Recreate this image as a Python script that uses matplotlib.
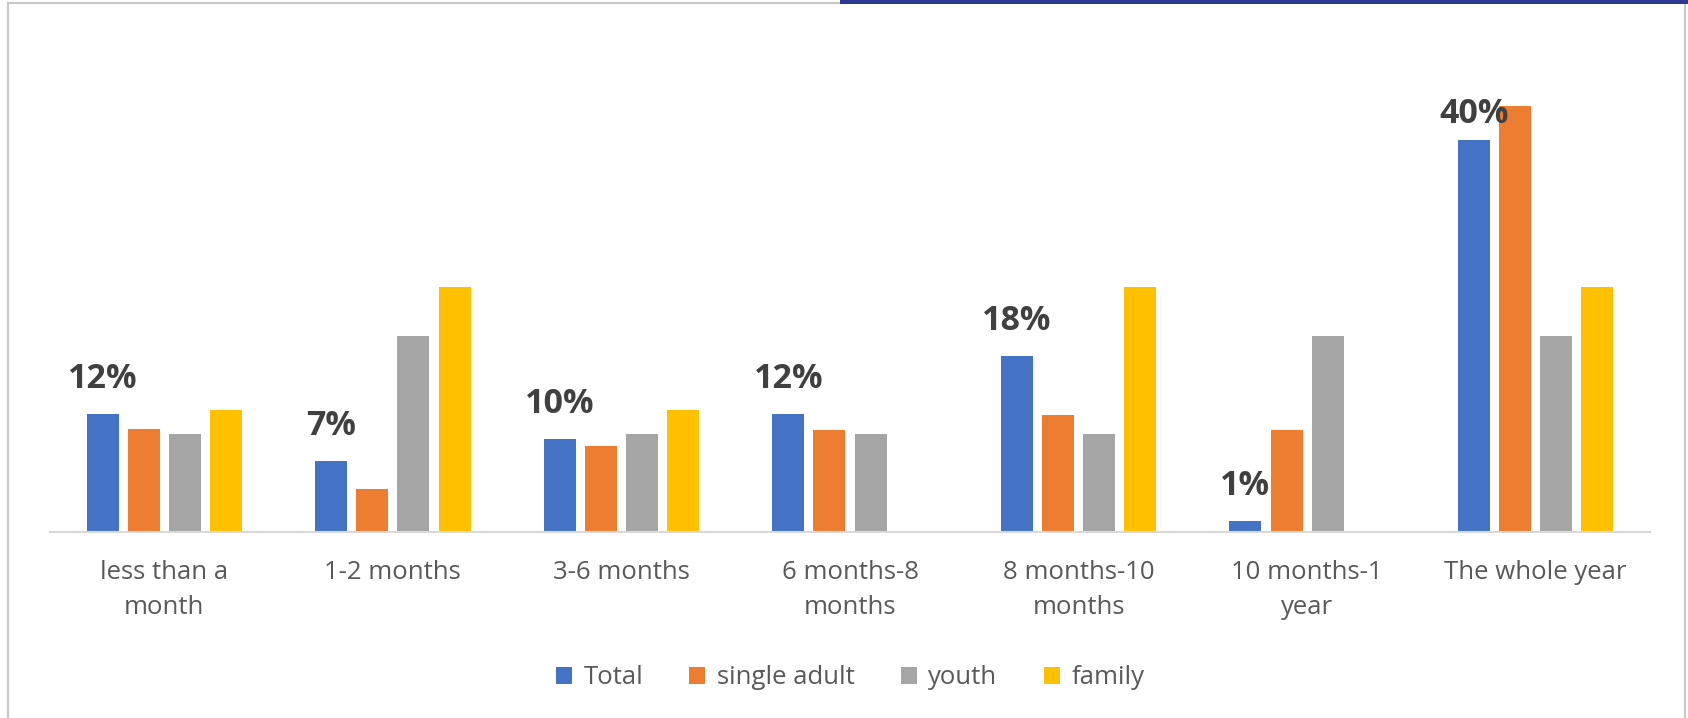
import matplotlib
matplotlib.use("Agg")
import matplotlib.pyplot as plt
import numpy as np
from matplotlib.lines import Line2D
from matplotlib.patches import Rectangle

categories = ["less than a\nmonth", "1-2 months", "3-6 months", "6 months-8\nmonths",
              "8 months-10\nmonths", "10 months-1\nyear", "The whole year"]
series_names = ["Total", "single adult", "youth", "family"]
total = [12, 7.2, 9.5, 12, 18, 1.1, 40]
single_adult = [10.5, 4.4, 8.8, 10.4, 11.9, 10.4, 43.5]
youth = [10, 20, 10, 10, 10, 20, 20]
family = [12.5, 25, 12.5, 0, 25, 0, 25]
total_labels = ["12%", "7%", "10%", "12%", "18%", "1%", "40%"]

colors = ["#4472C4", "#ED7D31", "#A5A5A5", "#FFC000"]

plt.rcParams['font.family'] = ['Open Sans', 'DejaVu Sans']

W, H = 1688, 718
fig = plt.figure(figsize=(W / 100, H / 100), dpi=100)
fig.patch.set_facecolor("white")

ymax = 45.0
px_per_unit = 9.8
bottom_px = 532
top_px = bottom_px - ymax * px_per_unit
ax = fig.add_axes([50 / W, (H - bottom_px) / H, 1600 / W, (bottom_px - top_px) / H])

x = np.arange(len(categories))
width = 0.14
pitch = 0.18
all_series = [total, single_adult, youth, family]
for i, (vals, name, col) in enumerate(zip(all_series, series_names, colors)):
    offs = (i - 1.5) * pitch
    ax.bar(x + offs, vals, width, color=col, label=name, zorder=2)

# data labels on Total series
label_cap = ymax - 3.3
for xi, v, t in zip(x, total, total_labels):
    y = min(v + 2.65, label_cap)
    ax.text(xi - 1.5 * pitch, y, t, ha="center", va="baseline",
            fontsize=24.5, fontweight="bold", color="#404040", zorder=3)

ax.set_xlim(-0.5, len(categories) - 0.5)
ax.set_ylim(0, ymax)
ax.set_xticks(x)
ax.set_xticklabels(categories, fontsize=18.5, color="#595959", linespacing=1.55)
ax.tick_params(axis="x", length=0, pad=20)
ax.set_yticks([])
for s in ["top", "right", "left"]:
    ax.spines[s].set_visible(False)
ax.spines["bottom"].set_color("#D9D9D9")
ax.spines["bottom"].set_linewidth(1.5)
ax.set_facecolor("none")

leg = fig.legend(loc="center", bbox_to_anchor=(850 / W, (H - 678) / H), ncol=4,
                 frameon=False, fontsize=18.5, handlelength=0.62, handleheight=0.62,
                 handletextpad=0.45, columnspacing=1.8)
for txt in leg.get_texts():
    txt.set_color("#595959")

# frame decorations (left, top, right borders and top accent band)
border_kw = dict(transform=fig.transFigure, color="#C8C8C8", linewidth=1.5, zorder=0)
fig.add_artist(Line2D([8 / W, 8 / W], [0, (H - 3) / H], **border_kw))
fig.add_artist(Line2D([8 / W, 1685 / W], [(H - 3) / H, (H - 3) / H], **border_kw))
fig.add_artist(Line2D([1685 / W, 1685 / W], [0, (H - 3) / H], **border_kw))
fig.patches.append(Rectangle((840 / W, (H - 4) / H), 1 - 840 / W, 4 / H, transform=fig.transFigure,
                             facecolor="#2B3990", edgecolor="none", zorder=5))

fig.savefig("out.png", dpi=100)
